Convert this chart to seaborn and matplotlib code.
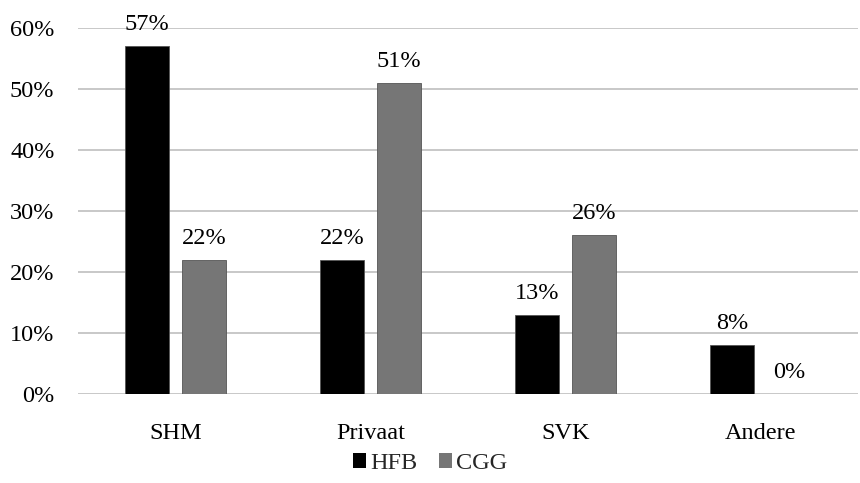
import matplotlib
matplotlib.use("Agg")
import matplotlib.pyplot as plt
import seaborn as sns
import pandas as pd
from matplotlib.patches import Patch

categories = ["SHM", "Privaat", "SVK", "Andere"]
series_names = ["HFB", "CGG"]
hfb_values = [57, 22, 13, 8]
cgg_values = [22, 51, 26, 0]
y_ticks = [0, 10, 20, 30, 40, 50, 60]

df = pd.DataFrame({
    "cat": categories * 2,
    "series": [series_names[0]] * 4 + [series_names[1]] * 4,
    "value": hfb_values + cgg_values,
})

sns.set_theme(style="white")
plt.rcParams["font.family"] = ["Liberation Serif", "DejaVu Serif"]

colors = {"HFB": "#000000", "CGG": "#767676"}
fs = 17.5

fig = plt.figure(figsize=(8.6, 4.83), dpi=100)
ax = fig.add_axes([0.0907, 0.184, 0.907, 0.758])
sns.barplot(data=df, x="cat", y="value", hue="series", order=categories,
            hue_order=series_names, palette=colors, width=0.584, gap=0.23,
            ax=ax, legend=False, saturation=1, errorbar=None,
            edgecolor="#555555", linewidth=0.6)

ax.set_ylim(0, 60)
ax.set_xlim(-0.5, 3.5)
ax.set_yticks(y_ticks)
ax.set_yticklabels([f"{v}%" for v in y_ticks])
ax.yaxis.grid(True, color="#BFBFBF", linewidth=1.2)
ax.set_axisbelow(True)
for s in ax.spines.values():
    s.set_visible(False)
ax.set_xlabel("")
ax.set_ylabel("")
ax.tick_params(axis="y", length=0, pad=17, labelsize=fs, labelcolor="#000000")
ax.tick_params(axis="x", length=0, pad=21, labelsize=fs, labelcolor="#000000")

for cont in ax.containers:
    ax.bar_label(cont, labels=[f"{v:.0f}%" for v in cont.datavalues],
                 padding=8, fontsize=fs, color="#000000")

handles = [Patch(facecolor=colors[n], edgecolor="none") for n in series_names]
fig.legend(handles, series_names, loc="center", bbox_to_anchor=(0.5, 0.04),
           ncol=2, frameon=False, fontsize=fs, handlelength=0.55,
           handleheight=0.55, handletextpad=0.15, columnspacing=0.9)

fig.savefig("out.png", dpi=100)
